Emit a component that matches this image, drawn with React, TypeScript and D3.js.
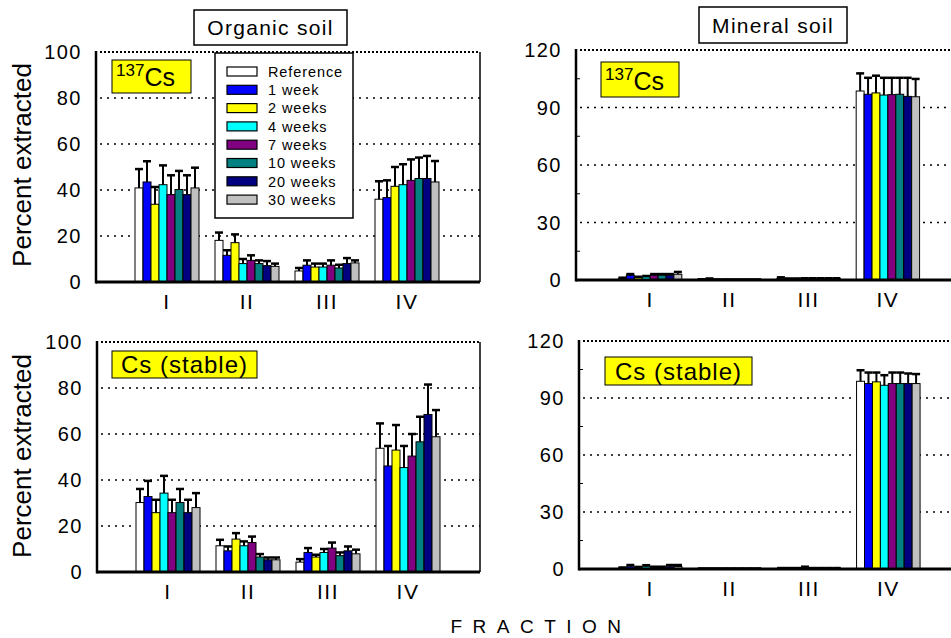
import React from "react";
import * as d3 from "d3";

// Extraction fractions and incubation times
const fractions = ["I", "II", "III", "IV"];
const seriesNames = ["Reference", "1 week", "2 weeks", "4 weeks", "7 weeks", "10 weeks", "20 weeks", "30 weeks"];
const seriesColors = ["#FFFFFF", "#0000FF", "#FFFF00", "#00FFFF", "#800080", "#008080", "#000080", "#C0C0C0"];

// Means and standard deviations, one row per fraction, one entry per series
const organic137Mean = [
  [40.9, 43.5, 33.8, 42.3, 38.0, 40.2, 38.0, 40.9],
  [18.1, 11.6, 17.1, 8.0, 9.4, 8.0, 7.1, 6.8],
  [4.8, 7.3, 6.5, 6.5, 7.3, 6.1, 8.0, 8.3],
  [36.0, 36.7, 41.6, 42.3, 44.2, 45.0, 45.0, 43.5],
];
const organic137Sd = [
  [8.2, 9.0, 7.5, 8.4, 8.4, 8.1, 8.4, 8.8],
  [3.4, 2.2, 3.6, 2.0, 2.2, 1.4, 2.0, 1.2],
  [1.3, 2.1, 1.5, 1.5, 2.1, 1.4, 2.4, 1.1],
  [7.8, 7.5, 8.4, 8.9, 9.1, 9.1, 9.8, 9.1],
];
const mineral137Mean = [
  [0.8, 2.5, 1.2, 1.6, 2.5, 2.5, 2.5, 3.0],
  [0.3, 0.3, 0.2, 0.2, 0.2, 0.2, 0.2, 0.2],
  [0.9, 0.6, 0.6, 0.7, 0.7, 0.7, 0.7, 0.7],
  [98.6, 96.9, 97.6, 96.5, 96.7, 96.9, 95.8, 95.6],
];
const mineral137Sd = [
  [0.4, 0.6, 0.5, 0.5, 0.6, 0.6, 0.6, 1.2],
  [0.1, 0.5, 0.1, 0.1, 0.1, 0.1, 0.1, 0.1],
  [0.5, 0.2, 0.2, 0.2, 0.2, 0.2, 0.2, 0.2],
  [9.2, 8.6, 9.0, 9.0, 8.8, 8.6, 9.7, 9.3],
];
const organicStableMean = [
  [30.2, 32.8, 25.8, 34.3, 25.8, 30.2, 25.8, 28.0],
  [11.4, 9.2, 14.3, 11.4, 12.8, 6.5, 5.3, 5.3],
  [4.3, 8.5, 6.5, 8.5, 10.4, 7.1, 9.2, 7.9],
  [53.8, 46.1, 53.0, 45.4, 50.4, 56.6, 68.5, 58.8],
];
const organicStableSd = [
  [5.9, 6.8, 5.6, 7.5, 5.6, 5.9, 5.6, 6.3],
  [2.6, 1.9, 2.6, 1.9, 2.6, 1.3, 1.0, 1.0],
  [1.3, 1.9, 1.0, 1.5, 2.4, 1.4, 1.9, 1.8],
  [10.8, 8.7, 10.9, 9.4, 9.6, 10.9, 13.0, 11.6],
];
const mineralStableMean = [
  [0.5, 1.2, 0.8, 1.2, 0.9, 0.9, 1.2, 1.3],
  [0.2, 0.2, 0.2, 0.2, 0.2, 0.2, 0.2, 0.2],
  [0.3, 0.3, 0.3, 0.4, 0.3, 0.3, 0.3, 0.3],
  [98.8, 97.6, 98.5, 96.7, 97.6, 97.6, 97.6, 97.6],
];
const mineralStableSd = [
  [0.3, 0.9, 0.3, 0.8, 0.3, 0.3, 0.9, 0.8],
  [0.1, 0.1, 0.1, 0.1, 0.1, 0.1, 0.1, 0.1],
  [0.2, 0.2, 0.2, 0.8, 0.2, 0.2, 0.2, 0.2],
  [5.8, 5.8, 4.9, 5.3, 5.8, 5.8, 5.3, 5.0],
];

const organicTicks = [0, 20, 40, 60, 80, 100];
const mineralTicks = [0, 30, 60, 90, 120];
const mineralMinorTicks = [15, 45, 75, 105];

const FONT = "'Liberation Sans', Arial, Helvetica, sans-serif";

type Geom = { left: number; right: number; top: number; bottom: number; band0: number; band1: number };

function Panel(props: {
  g: Geom;
  yMax: number;
  ticks: number[];
  minor: number[];
  means: number[][];
  sds: number[][];
  box: { x: number; y: number; w: number; h: number };
  isotope: boolean;
  boxFont: number;
  legend?: boolean;
}) {
  const { g, yMax, ticks, minor, means, sds, box, isotope, boxFont, legend } = props;
  const y = d3.scaleLinear().domain([0, yMax]).range([g.bottom, g.top]);
  const x = d3.scaleBand().domain(fractions).range([g.band0, g.band1]).paddingInner(0.2).paddingOuter(0.1);
  const bw = x.bandwidth();
  const groupW = Math.min(64, bw);
  const inner = d3.scaleBand().domain(seriesNames).range([0, groupW]);
  const groupStart = (f: string) => (x(f) as number) + bw / 2 - groupW / 2;

  return (
    <g>
      {/* dotted gridlines */}
      {ticks.filter((t) => t > 0).map((t) => (
        <line
          key={"g" + t}
          x1={g.left + 4}
          x2={g.right}
          y1={y(t)}
          y2={y(t)}
          stroke="#000"
          strokeWidth={t === yMax ? 2 : 1.7}
          strokeDasharray={t === yMax ? "2 2" : "2 5"}
        />
      ))}
      {/* bars */}
      {fractions.map((f, fi) =>
        seriesNames.map((s, si) => {
          const v = means[fi][si];
          const bx = groupStart(f) + (inner(s) as number);
          return (
            <rect
              key={f + s}
              x={bx}
              y={y(v)}
              width={inner.bandwidth()}
              height={Math.max(0, y(0) - y(v))}
              fill={seriesColors[si]}
              stroke="#000"
              strokeWidth={1}
            />
          );
        })
      )}
      {/* error bars */}
      {fractions.map((f, fi) =>
        seriesNames.map((s, si) => {
          const v = means[fi][si];
          const e = v + sds[fi][si];
          const cx = groupStart(f) + (inner(s) as number) + inner.bandwidth() / 2;
          return (
            <g key={"e" + f + s}>
              <line x1={cx} x2={cx} y1={y(v)} y2={y(e)} stroke="#000" strokeWidth={2} />
              <line x1={cx - 4} x2={cx + 4} y1={y(e)} y2={y(e)} stroke="#000" strokeWidth={2.5} />
            </g>
          );
        })
      )}
      {/* frame */}
      <line x1={g.right} x2={g.right} y1={g.top} y2={g.bottom} stroke="#000" strokeWidth={1.5} />
      <line x1={g.left} x2={g.left} y1={g.top - 1} y2={g.bottom + 1.5} stroke="#000" strokeWidth={2.5} />
      <line x1={g.left} x2={g.right} y1={g.bottom} y2={g.bottom} stroke="#000" strokeWidth={3} />
      {minor.map((t) => (
        <line key={"m" + t} x1={g.left} x2={g.left + 4} y1={y(t)} y2={y(t)} stroke="#000" strokeWidth={1} />
      ))}
      {/* y tick labels */}
      {ticks.map((t) => (
        <text
          key={"t" + t}
          x={g.left - 14}
          y={y(t)}
          dy="0.36em"
          textAnchor="end"
          fontSize={20}
          letterSpacing={1.5}
          fontFamily={FONT}
          fill="#000"
        >
          {t}
        </text>
      ))}
      {/* fraction labels */}
      {fractions.map((f) => (
        <text
          key={"x" + f}
          x={(x(f) as number) + bw / 2}
          y={g.bottom + 27}
          textAnchor="middle"
          fontSize={21}
          letterSpacing={1.5}
          fontFamily={FONT}
          fill="#000"
        >
          {f}
        </text>
      ))}
      {/* species label */}
      <rect x={box.x} y={box.y} width={box.w} height={box.h} fill="#FFFF00" stroke="#000" strokeWidth={1} />
      {isotope ? (
        <text x={box.x + 4} y={box.y + box.h - 7} fontSize={boxFont} fontFamily={FONT} fill="#000">
          <tspan fontSize={17} dy={-10}>137</tspan>
          <tspan dy={10}>Cs</tspan>
        </text>
      ) : (
        <text
          x={box.x + box.w / 2}
          y={box.y + box.h / 2}
          dy="0.36em"
          textAnchor="middle"
          fontSize={boxFont}
          letterSpacing={1}
          fontFamily={FONT}
          fill="#000"
        >
          Cs (stable)
        </text>
      )}
      {legend && (
        <g>
          <rect x={215} y={53} width={138} height={165} fill="#FFF" stroke="#000" strokeWidth={1.5} />
          {seriesNames.map((s, i) => (
            <g key={"l" + s}>
              <rect x={227} y={67 + i * 18.3} width={30} height={9} fill={seriesColors[i]} stroke="#000" strokeWidth={1.2} />
              <text x={268} y={71.5 + i * 18.3} dy="0.36em" fontSize={14.5} letterSpacing={0.9} fontFamily={FONT} fill="#000">
                {s}
              </text>
            </g>
          ))}
        </g>
      )}
    </g>
  );
}

export default function App() {
  return (
    <svg
      width={951}
      height={638}
      viewBox="0 0 951 638"
      style={{ position: "absolute", left: 0, top: 0, background: "#fff" }}
    >
      <rect x={0} y={0} width={951} height={638} fill="#fff" />
      {/* column titles */}
      <rect x={194} y={10} width={153} height={35} fill="#fff" stroke="#000" strokeWidth={1.5} />
      <text x={270.5} y={27.5} dy="0.36em" textAnchor="middle" fontSize={21} letterSpacing={1.3} fontFamily={FONT}>
        Organic soil
      </text>
      <rect x={699} y={7} width={148} height={36} fill="#fff" stroke="#000" strokeWidth={1.5} />
      <text x={773} y={25} dy="0.36em" textAnchor="middle" fontSize={21} letterSpacing={1.3} fontFamily={FONT}>
        Mineral soil
      </text>

      <Panel
        g={{ left: 96, right: 480, top: 52, bottom: 282, band0: 127, band1: 447 }}
        yMax={100}
        ticks={organicTicks}
        minor={[]}
        means={organic137Mean}
        sds={organic137Sd}
        box={{ x: 112, y: 60, w: 79, h: 33 }}
        isotope={true}
        boxFont={25}
        legend={true}
      />
      <Panel
        g={{ left: 576, right: 960, top: 50, bottom: 280, band0: 610.5, band1: 927.5 }}
        yMax={120}
        ticks={mineralTicks}
        minor={mineralMinorTicks}
        means={mineral137Mean}
        sds={mineral137Sd}
        box={{ x: 601, y: 62, w: 78, h: 35 }}
        isotope={true}
        boxFont={25}
      />
      <Panel
        g={{ left: 97, right: 480, top: 342, bottom: 572, band0: 128, band1: 448 }}
        yMax={100}
        ticks={organicTicks}
        minor={[]}
        means={organicStableMean}
        sds={organicStableSd}
        box={{ x: 112, y: 351, w: 145, h: 27 }}
        isotope={false}
        boxFont={24}
      />
      <Panel
        g={{ left: 579, right: 960, top: 341, bottom: 569, band0: 610.5, band1: 928 }}
        yMax={120}
        ticks={mineralTicks}
        minor={mineralMinorTicks}
        means={mineralStableMean}
        sds={mineralStableSd}
        box={{ x: 605, y: 357, w: 147, h: 28 }}
        isotope={false}
        boxFont={24}
      />

      {/* shared axis titles */}
      <text transform="translate(31,165) rotate(-90)" textAnchor="middle" fontSize={26} fontFamily={FONT}>
        Percent extracted
      </text>
      <text transform="translate(31,456) rotate(-90)" textAnchor="middle" fontSize={26} fontFamily={FONT}>
        Percent extracted
      </text>
      <text x={541} y={633} textAnchor="middle" fontSize={19} letterSpacing={10.5} fontFamily={FONT}>
        FRACTION
      </text>
    </svg>
  );
}
